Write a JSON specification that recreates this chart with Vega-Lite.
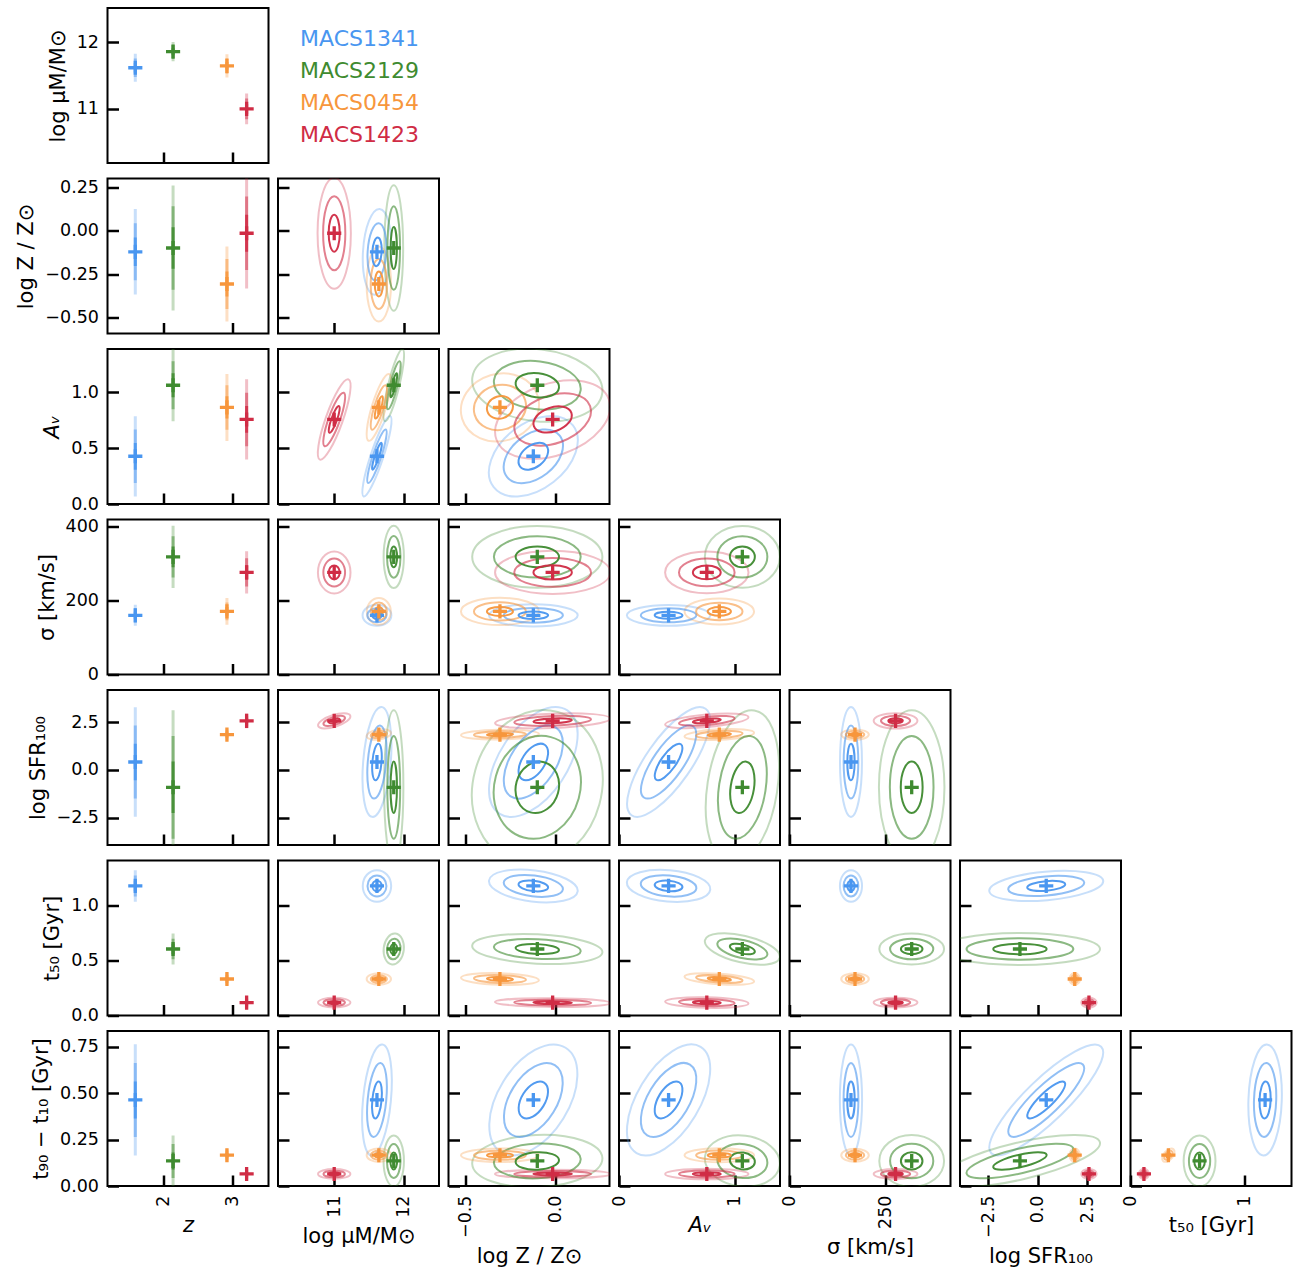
{
"$schema":"https://vega.github.io/schema/vega-lite/v6.json",
"background":"white",
"padding":{"left":14.5,"top":7,"right":2,"bottom":2},
"bounds":"flush",
"columns":7,
"spacing":{"row":15.5,"column":9.5},
"datasets":{
"grp":[
{"g":"MACS1341","z":1.594,"M":11.616,"Z":-0.122,"A":0.428,"S":160,"F":0.42,"T":1.183,"D":0.464},
{"g":"MACS2129","z":2.143,"M":11.858,"Z":-0.1,"A":1.065,"S":318,"F":-0.91,"T":0.607,"D":0.135},
{"g":"MACS0454","z":2.926,"M":11.643,"Z":-0.307,"A":0.866,"S":170.5,"F":1.86,"T":0.333,"D":0.166},
{"g":"MACS1423","z":3.212,"M":11.0,"Z":-0.015,"A":0.758,"S":276,"F":2.58,"T":0.118,"D":0.065}
],
"eb":[
{"v":"M","g":"MACS1341","lv":1,"lo":11.546,"hi":11.686},{"v":"M","g":"MACS1341","lv":2,"lo":11.476,"hi":11.756},{"v":"M","g":"MACS1341","lv":3,"lo":11.406,"hi":11.826},
{"v":"Z","g":"MACS1341","lv":1,"lo":-0.204,"hi":-0.04},{"v":"Z","g":"MACS1341","lv":2,"lo":-0.286,"hi":0.042},{"v":"Z","g":"MACS1341","lv":3,"lo":-0.368,"hi":0.124},
{"v":"A","g":"MACS1341","lv":1,"lo":0.308,"hi":0.548},{"v":"A","g":"MACS1341","lv":2,"lo":0.188,"hi":0.668},{"v":"A","g":"MACS1341","lv":3,"lo":0.068,"hi":0.788},
{"v":"S","g":"MACS1341","lv":1,"lo":150.5,"hi":169.5},{"v":"S","g":"MACS1341","lv":2,"lo":141,"hi":179},{"v":"S","g":"MACS1341","lv":3,"lo":131.5,"hi":188.5},
{"v":"F","g":"MACS1341","lv":1,"lo":-0.54,"hi":1.38},{"v":"F","g":"MACS1341","lv":2,"lo":-1.5,"hi":2.34},{"v":"F","g":"MACS1341","lv":3,"lo":-2.46,"hi":3.3},
{"v":"T","g":"MACS1341","lv":1,"lo":1.135,"hi":1.231},{"v":"T","g":"MACS1341","lv":2,"lo":1.087,"hi":1.279},{"v":"T","g":"MACS1341","lv":3,"lo":1.039,"hi":1.327},
{"v":"D","g":"MACS1341","lv":1,"lo":0.364,"hi":0.564},{"v":"D","g":"MACS1341","lv":2,"lo":0.264,"hi":0.664},{"v":"D","g":"MACS1341","lv":3,"lo":0.164,"hi":0.764},
{"v":"M","g":"MACS2129","lv":1,"lo":11.81,"hi":11.906},{"v":"M","g":"MACS2129","lv":2,"lo":11.762,"hi":11.954},{"v":"M","g":"MACS2129","lv":3,"lo":11.714,"hi":12.002},
{"v":"Z","g":"MACS2129","lv":1,"lo":-0.22,"hi":0.02},{"v":"Z","g":"MACS2129","lv":2,"lo":-0.34,"hi":0.14},{"v":"Z","g":"MACS2129","lv":3,"lo":-0.46,"hi":0.26},
{"v":"A","g":"MACS2129","lv":1,"lo":0.957,"hi":1.173},{"v":"A","g":"MACS2129","lv":2,"lo":0.849,"hi":1.281},{"v":"A","g":"MACS2129","lv":3,"lo":0.741,"hi":1.389},
{"v":"S","g":"MACS2129","lv":1,"lo":290,"hi":346},{"v":"S","g":"MACS2129","lv":2,"lo":262,"hi":374},{"v":"S","g":"MACS2129","lv":3,"lo":234,"hi":402},
{"v":"F","g":"MACS2129","lv":1,"lo":-2.26,"hi":0.44},{"v":"F","g":"MACS2129","lv":2,"lo":-3.61,"hi":1.79},{"v":"F","g":"MACS2129","lv":3,"lo":-4.96,"hi":3.14},
{"v":"T","g":"MACS2129","lv":1,"lo":0.56,"hi":0.654},{"v":"T","g":"MACS2129","lv":2,"lo":0.513,"hi":0.701},{"v":"T","g":"MACS2129","lv":3,"lo":0.466,"hi":0.748},
{"v":"D","g":"MACS2129","lv":1,"lo":0.089,"hi":0.181},{"v":"D","g":"MACS2129","lv":2,"lo":0.043,"hi":0.227},{"v":"D","g":"MACS2129","lv":3,"lo":-0.003,"hi":0.273},
{"v":"M","g":"MACS0454","lv":1,"lo":11.585,"hi":11.701},{"v":"M","g":"MACS0454","lv":2,"lo":11.527,"hi":11.759},{"v":"M","g":"MACS0454","lv":3,"lo":11.469,"hi":11.817},
{"v":"Z","g":"MACS0454","lv":1,"lo":-0.379,"hi":-0.235},{"v":"Z","g":"MACS0454","lv":2,"lo":-0.451,"hi":-0.163},{"v":"Z","g":"MACS0454","lv":3,"lo":-0.523,"hi":-0.091},
{"v":"A","g":"MACS0454","lv":1,"lo":0.766,"hi":0.966},{"v":"A","g":"MACS0454","lv":2,"lo":0.666,"hi":1.066},{"v":"A","g":"MACS0454","lv":3,"lo":0.566,"hi":1.166},
{"v":"S","g":"MACS0454","lv":1,"lo":158.5,"hi":182.5},{"v":"S","g":"MACS0454","lv":2,"lo":146.5,"hi":194.5},{"v":"S","g":"MACS0454","lv":3,"lo":134.5,"hi":206.5},
{"v":"F","g":"MACS0454","lv":1,"lo":1.77,"hi":1.95},{"v":"F","g":"MACS0454","lv":2,"lo":1.68,"hi":2.04},{"v":"F","g":"MACS0454","lv":3,"lo":1.59,"hi":2.13},
{"v":"T","g":"MACS0454","lv":1,"lo":0.315,"hi":0.351},{"v":"T","g":"MACS0454","lv":2,"lo":0.297,"hi":0.369},{"v":"T","g":"MACS0454","lv":3,"lo":0.279,"hi":0.387},
{"v":"D","g":"MACS0454","lv":1,"lo":0.154,"hi":0.178},{"v":"D","g":"MACS0454","lv":2,"lo":0.142,"hi":0.19},{"v":"D","g":"MACS0454","lv":3,"lo":0.13,"hi":0.202},
{"v":"M","g":"MACS1423","lv":1,"lo":10.923,"hi":11.077},{"v":"M","g":"MACS1423","lv":2,"lo":10.846,"hi":11.154},{"v":"M","g":"MACS1423","lv":3,"lo":10.769,"hi":11.231},
{"v":"Z","g":"MACS1423","lv":1,"lo":-0.121,"hi":0.091},{"v":"Z","g":"MACS1423","lv":2,"lo":-0.227,"hi":0.197},{"v":"Z","g":"MACS1423","lv":3,"lo":-0.333,"hi":0.303},
{"v":"A","g":"MACS1423","lv":1,"lo":0.638,"hi":0.878},{"v":"A","g":"MACS1423","lv":2,"lo":0.518,"hi":0.998},{"v":"A","g":"MACS1423","lv":3,"lo":0.398,"hi":1.118},
{"v":"S","g":"MACS1423","lv":1,"lo":257,"hi":295},{"v":"S","g":"MACS1423","lv":2,"lo":238,"hi":314},{"v":"S","g":"MACS1423","lv":3,"lo":219,"hi":333},
{"v":"F","g":"MACS1423","lv":1,"lo":2.45,"hi":2.71},{"v":"F","g":"MACS1423","lv":2,"lo":2.32,"hi":2.84},{"v":"F","g":"MACS1423","lv":3,"lo":2.19,"hi":2.97},
{"v":"T","g":"MACS1423","lv":1,"lo":0.103,"hi":0.133},{"v":"T","g":"MACS1423","lv":2,"lo":0.088,"hi":0.148},{"v":"T","g":"MACS1423","lv":3,"lo":0.073,"hi":0.163},
{"v":"D","g":"MACS1423","lv":1,"lo":0.056,"hi":0.074},{"v":"D","g":"MACS1423","lv":2,"lo":0.047,"hi":0.083},{"v":"D","g":"MACS1423","lv":3,"lo":0.038,"hi":0.092}
],
"ell":[
{"p":"Z|M","g":"MACS1341","a":14.33,"k":"0.325","t":93.5},{"p":"Z|M","g":"MACS2129","a":20.9,"k":"0.15","t":90},{"p":"Z|M","g":"MACS0454","a":12.5,"k":"0.325","t":90},{"p":"Z|M","g":"MACS1423","a":18.5,"k":"0.3","t":90},
{"p":"A|M","g":"MACS1341","a":14.1,"k":"0.15","t":108.3},{"p":"A|M","g":"MACS2129","a":12.34,"k":"0.15","t":103.7},{"p":"A|M","g":"MACS0454","a":11.63,"k":"0.2","t":107},{"p":"A|M","g":"MACS1423","a":14.19,"k":"0.2","t":109.6},
{"p":"A|Z","g":"MACS1341","a":16.76,"k":"0.65","t":142},{"p":"A|Z","g":"MACS2129","a":21.81,"k":"0.55","t":6.7},{"p":"A|Z","g":"MACS0454","a":13.16,"k":"0.85","t":163.5},{"p":"A|Z","g":"MACS1423","a":19.9,"k":"0.6","t":160.4},
{"p":"S|M","g":"MACS1341","a":4.8,"k":"0.725","t":0},{"p":"S|M","g":"MACS2129","a":10.4,"k":"0.325","t":90},{"p":"S|M","g":"MACS0454","a":4.44,"k":"0.9","t":90},{"p":"S|M","g":"MACS1423","a":7.0,"k":"0.775","t":90},
{"p":"S|Z","g":"MACS1341","a":14.8,"k":"0.25","t":0},{"p":"S|Z","g":"MACS2129","a":21.7,"k":"0.475","t":0},{"p":"S|Z","g":"MACS0454","a":13.0,"k":"0.35","t":0},{"p":"S|Z","g":"MACS1423","a":19.2,"k":"0.375","t":0},
{"p":"S|A","g":"MACS1341","a":13.9,"k":"0.25","t":0},{"p":"S|A","g":"MACS2129","a":12.5,"k":"0.825","t":0},{"p":"S|A","g":"MACS0454","a":11.6,"k":"0.375","t":0},{"p":"S|A","g":"MACS1423","a":13.9,"k":"0.5","t":0},
{"p":"F|M","g":"MACS1341","a":18.36,"k":"0.25","t":94.8},{"p":"F|M","g":"MACS2129","a":25.7,"k":"0.125","t":90},{"p":"F|M","g":"MACS0454","a":4.1,"k":"0.4","t":171.5},{"p":"F|M","g":"MACS1423","a":5.62,"k":"0.35","t":162.5},
{"p":"F|Z","g":"MACS1341","a":20.6,"k":"0.55","t":123.4},{"p":"F|Z","g":"MACS2129","a":26.0,"k":"0.825","t":105.2},{"p":"F|Z","g":"MACS0454","a":13.0,"k":"0.125","t":179},{"p":"F|Z","g":"MACS1423","a":19.2,"k":"0.125","t":177.7},
{"p":"F|A","g":"MACS1341","a":21.62,"k":"0.35","t":124.8},{"p":"F|A","g":"MACS2129","a":25.94,"k":"0.45","t":98.8},{"p":"F|A","g":"MACS0454","a":11.62,"k":"0.15","t":177},{"p":"F|A","g":"MACS1423","a":13.96,"k":"0.15","t":174.8},
{"p":"F|S","g":"MACS1341","a":18.3,"k":"0.2","t":90},{"p":"F|S","g":"MACS2129","a":25.7,"k":"0.425","t":90},{"p":"F|S","g":"MACS0454","a":4.6,"k":"0.375","t":0},{"p":"F|S","g":"MACS1423","a":7.3,"k":"0.35","t":0},
{"p":"T|M","g":"MACS1341","a":5.26,"k":"0.9","t":90},{"p":"T|M","g":"MACS2129","a":5.17,"k":"0.65","t":96.4},{"p":"T|M","g":"MACS0454","a":4.06,"k":"0.475","t":0},{"p":"T|M","g":"MACS1423","a":5.39,"k":"0.3","t":0},
{"p":"T|Z","g":"MACS1341","a":14.89,"k":"0.35","t":6.9},{"p":"T|Z","g":"MACS2129","a":21.73,"k":"0.225","t":2.9},{"p":"T|Z","g":"MACS0454","a":13.0,"k":"0.15","t":1.8},{"p":"T|Z","g":"MACS1423","a":19.2,"k":"0.075","t":0.5},
{"p":"T|A","g":"MACS1341","a":13.95,"k":"0.375","t":5},{"p":"T|A","g":"MACS2129","a":12.8,"k":"0.35","t":13.2},{"p":"T|A","g":"MACS0454","a":11.63,"k":"0.15","t":4},{"p":"T|A","g":"MACS1423","a":13.9,"k":"0.125","t":1.4},
{"p":"T|S","g":"MACS1341","a":5.26,"k":"0.7","t":90},{"p":"T|S","g":"MACS2129","a":10.8,"k":"0.475","t":0},{"p":"T|S","g":"MACS0454","a":4.6,"k":"0.425","t":0},{"p":"T|S","g":"MACS1423","a":7.3,"k":"0.225","t":0},
{"p":"T|F","g":"MACS1341","a":19.07,"k":"0.25","t":174.9},{"p":"T|F","g":"MACS2129","a":26.7,"k":"0.2","t":0},{"p":"T|F","g":"MACS0454","a":1.97,"k":"0.9","t":90},{"p":"T|F","g":"MACS1423","a":2.57,"k":"0.65","t":0},
{"p":"D|M","g":"MACS1341","a":18.58,"k":"0.25","t":95.5},{"p":"D|M","g":"MACS2129","a":8.5,"k":"0.4","t":90},{"p":"D|M","g":"MACS0454","a":4.06,"k":"0.55","t":0},{"p":"D|M","g":"MACS1423","a":5.39,"k":"0.3","t":0},
{"p":"D|Z","g":"MACS1341","a":20.45,"k":"0.575","t":121.7},{"p":"D|Z","g":"MACS2129","a":21.72,"k":"0.4","t":177.4},{"p":"D|Z","g":"MACS0454","a":13.0,"k":"0.175","t":0},{"p":"D|Z","g":"MACS1423","a":19.2,"k":"0.075","t":0},
{"p":"D|A","g":"MACS1341","a":20.68,"k":"0.5","t":121.1},{"p":"D|A","g":"MACS2129","a":12.55,"k":"0.675","t":7.1},{"p":"D|A","g":"MACS0454","a":11.6,"k":"0.2","t":0},{"p":"D|A","g":"MACS1423","a":13.9,"k":"0.125","t":0},
{"p":"D|S","g":"MACS1341","a":18.5,"k":"0.2","t":90},{"p":"D|S","g":"MACS2129","a":10.8,"k":"0.8","t":0},{"p":"D|S","g":"MACS0454","a":4.6,"k":"0.475","t":0},{"p":"D|S","g":"MACS1423","a":7.3,"k":"0.225","t":0},
{"p":"D|F","g":"MACS1341","a":25.5,"k":"0.275","t":135.9},{"p":"D|F","g":"MACS2129","a":27.39,"k":"0.225","t":166.8},{"p":"D|F","g":"MACS0454","a":2.2,"k":"0.8","t":90},{"p":"D|F","g":"MACS1423","a":2.57,"k":"0.65","t":0},
{"p":"D|T","g":"MACS1341","a":18.51,"k":"0.3","t":91.85},{"p":"D|T","g":"MACS2129","a":8.5,"k":"0.625","t":90},{"p":"D|T","g":"MACS0454","a":2.61,"k":"0.575","t":131},{"p":"D|T","g":"MACS1423","a":1.7,"k":"1.0","t":0}
]
},
"concat":[
{"width":161,"height":155,"data":{"name":"eb"},"transform":[{"filter":{"field":"v","equal":"M"}},{"lookup":"g","from":{"data":{"name":"grp"},"key":"g","fields":["z","M"]}}],
 "encoding":{"x":{"field":"z","type":"quantitative","scale":{"domain":[1.19,3.53],"nice":false,"zero":false},"axis":{"values":[2,3],"labels":false,"title":null}},"color":{"field":"g","type":"nominal","scale":{"domain":["MACS1341","MACS2129","MACS0454","MACS1423"],"range":["#4996f0","#3f8b30","#f7963c","#d02c45"]},"legend":null}},
 "layer":[
 {"transform":[{"filter":{"field":"lv","equal":3}}],"mark":{"type":"rule","strokeWidth":3,"opacity":0.3,"clip":true},"encoding":{"y":{"field":"lo","type":"quantitative","scale":{"domain":[10.19,12.51],"nice":false,"zero":false},"axis":{"values":[11,12],"format":"d","title":"log μM/M⊙"}},"y2":{"field":"hi"}}},
 {"transform":[{"filter":{"field":"lv","equal":2}}],"mark":{"type":"rule","strokeWidth":3,"opacity":0.5,"clip":true},"encoding":{"y":{"field":"lo","type":"quantitative","scale":{"domain":[10.19,12.51],"nice":false,"zero":false},"axis":{"values":[11,12],"format":"d","title":"log μM/M⊙"}},"y2":{"field":"hi"}}},
 {"transform":[{"filter":{"field":"lv","equal":1}}],"mark":{"type":"rule","strokeWidth":3,"opacity":0.85,"clip":true},"encoding":{"y":{"field":"lo","type":"quantitative","scale":{"domain":[10.19,12.51],"nice":false,"zero":false},"axis":{"values":[11,12],"format":"d","title":"log μM/M⊙"}},"y2":{"field":"hi"}}},
 {"transform":[{"filter":{"field":"lv","equal":1}}],"mark":{"type":"point","shape":"M-1,0L1,0M0,-1L0,1","size":200,"strokeWidth":3.3,"filled":false,"opacity":1},"encoding":{"y":{"field":"M","type":"quantitative","scale":{"domain":[10.19,12.51],"nice":false,"zero":false},"axis":{"values":[11,12],"format":"d","title":"log μM/M⊙"}}}}
 ]},
{"width":161,"height":155,"view":{"stroke":null},"data":{"name":"grp"},"mark":{"type":"text","align":"left","baseline":"middle","fontSize":22,"font":"DejaVu Sans"},
 "encoding":{"x":{"value":22},"y":{"field":"g","type":"nominal","scale":{"type":"point","padding":0,"domain":["MACS1341","MACS2129","MACS0454","MACS1423"],"range":[31,127]},"axis":null},"text":{"field":"g"},"color":{"field":"g","type":"nominal","scale":{"domain":["MACS1341","MACS2129","MACS0454","MACS1423"],"range":["#4996f0","#3f8b30","#f7963c","#d02c45"]},"legend":null}}},
{"width":161,"height":155,"view":{"stroke":null},"data":{"values":[]},"mark":"point"},
{"width":161,"height":155,"view":{"stroke":null},"data":{"values":[]},"mark":"point"},
{"width":161,"height":155,"view":{"stroke":null},"data":{"values":[]},"mark":"point"},
{"width":161,"height":155,"view":{"stroke":null},"data":{"values":[]},"mark":"point"},
{"width":161,"height":155,"view":{"stroke":null},"data":{"values":[]},"mark":"point"},

{"width":161,"height":155,"data":{"name":"eb"},"transform":[{"filter":{"field":"v","equal":"Z"}},{"lookup":"g","from":{"data":{"name":"grp"},"key":"g","fields":["z","Z"]}}],
 "encoding":{"x":{"field":"z","type":"quantitative","scale":{"domain":[1.19,3.53],"nice":false,"zero":false},"axis":{"values":[2,3],"labels":false,"title":null}},"color":{"field":"g","type":"nominal","scale":{"domain":["MACS1341","MACS2129","MACS0454","MACS1423"],"range":["#4996f0","#3f8b30","#f7963c","#d02c45"]},"legend":null}},
 "layer":[
 {"transform":[{"filter":{"field":"lv","equal":3}}],"mark":{"type":"rule","strokeWidth":3,"opacity":0.3,"clip":true},"encoding":{"y":{"field":"lo","type":"quantitative","scale":{"domain":[-0.592,0.3],"nice":false,"zero":false},"axis":{"values":[-0.5,-0.25,0,0.25],"format":".2f","title":"log Z / Z⊙"}},"y2":{"field":"hi"}}},
 {"transform":[{"filter":{"field":"lv","equal":2}}],"mark":{"type":"rule","strokeWidth":3,"opacity":0.5,"clip":true},"encoding":{"y":{"field":"lo","type":"quantitative","scale":{"domain":[-0.592,0.3],"nice":false,"zero":false},"axis":{"values":[-0.5,-0.25,0,0.25],"format":".2f","title":"log Z / Z⊙"}},"y2":{"field":"hi"}}},
 {"transform":[{"filter":{"field":"lv","equal":1}}],"mark":{"type":"rule","strokeWidth":3,"opacity":0.85,"clip":true},"encoding":{"y":{"field":"lo","type":"quantitative","scale":{"domain":[-0.592,0.3],"nice":false,"zero":false},"axis":{"values":[-0.5,-0.25,0,0.25],"format":".2f","title":"log Z / Z⊙"}},"y2":{"field":"hi"}}},
 {"transform":[{"filter":{"field":"lv","equal":1}}],"mark":{"type":"point","shape":"M-1,0L1,0M0,-1L0,1","size":200,"strokeWidth":3.3,"filled":false,"opacity":1},"encoding":{"y":{"field":"Z","type":"quantitative","scale":{"domain":[-0.592,0.3],"nice":false,"zero":false},"axis":{"values":[-0.5,-0.25,0,0.25],"format":".2f","title":"log Z / Z⊙"}}}}
 ]},
{"width":161,"height":155,"data":{"name":"ell"},"transform":[{"filter":{"field":"p","equal":"Z|M"}},{"lookup":"g","from":{"data":{"name":"grp"},"key":"g","fields":["M","Z"]}}],
 "encoding":{"x":{"field":"M","type":"quantitative","scale":{"domain":[10.19,12.51],"nice":false,"zero":false},"axis":{"values":[11,12],"labels":false,"title":null}},"y":{"field":"Z","type":"quantitative","scale":{"domain":[-0.592,0.3],"nice":false,"zero":false},"axis":{"values":[-0.5,-0.25,0,0.25],"labels":false,"title":null}},"color":{"field":"g","type":"nominal","scale":{"domain":["MACS1341","MACS2129","MACS0454","MACS1423"],"range":["#4996f0","#3f8b30","#f7963c","#d02c45"]},"legend":null},"shape":{"field":"k","type":"nominal","scale":{"domain":["0.075","0.125","0.15","0.175","0.2","0.225","0.25","0.275","0.3","0.325","0.35","0.375","0.4","0.425","0.45","0.475","0.5","0.55","0.575","0.6","0.625","0.65","0.675","0.7","0.725","0.775","0.8","0.825","0.85","0.9","1.0"]},"legend":null},"angle":{"field":"t","type":"quantitative","scale":null}},
 "layer":[
 {"mark":{"type":"point","filled":false,"strokeWidth":2,"opacity":0.3,"clip":true},"encoding":{"size":{"field":"a","type":"quantitative","scale":{"type":"pow","exponent":2,"domain":[0,30],"range":[0,32400]},"legend":null}}},
 {"mark":{"type":"point","filled":false,"strokeWidth":2,"opacity":0.6,"clip":true},"encoding":{"size":{"field":"a","type":"quantitative","scale":{"type":"pow","exponent":2,"domain":[0,30],"range":[0,14400]},"legend":null}}},
 {"mark":{"type":"point","filled":false,"strokeWidth":2,"opacity":0.95,"clip":true},"encoding":{"size":{"field":"a","type":"quantitative","scale":{"type":"pow","exponent":2,"domain":[0,30],"range":[0,3600]},"legend":null}}},
 {"mark":{"type":"point","filled":false,"strokeWidth":3.3,"opacity":1,"size":200},"encoding":{"shape":{"value":"M-1,0L1,0M0,-1L0,1"},"angle":{"value":0}}}
 ],"resolve":{"scale":{"size":"independent"}}},
{"width":161,"height":155,"view":{"stroke":null},"data":{"values":[]},"mark":"point"},
{"width":161,"height":155,"view":{"stroke":null},"data":{"values":[]},"mark":"point"},
{"width":161,"height":155,"view":{"stroke":null},"data":{"values":[]},"mark":"point"},
{"width":161,"height":155,"view":{"stroke":null},"data":{"values":[]},"mark":"point"},
{"width":161,"height":155,"view":{"stroke":null},"data":{"values":[]},"mark":"point"},

{"width":161,"height":155,"data":{"name":"eb"},"transform":[{"filter":{"field":"v","equal":"A"}},{"lookup":"g","from":{"data":{"name":"grp"},"key":"g","fields":["z","A"]}}],
 "encoding":{"x":{"field":"z","type":"quantitative","scale":{"domain":[1.19,3.53],"nice":false,"zero":false},"axis":{"values":[2,3],"labels":false,"title":null}},"color":{"field":"g","type":"nominal","scale":{"domain":["MACS1341","MACS2129","MACS0454","MACS1423"],"range":["#4996f0","#3f8b30","#f7963c","#d02c45"]},"legend":null}},
 "layer":[
 {"transform":[{"filter":{"field":"lv","equal":3}}],"mark":{"type":"rule","strokeWidth":3,"opacity":0.3,"clip":true},"encoding":{"y":{"field":"lo","type":"quantitative","scale":{"domain":[0,1.39],"nice":false,"zero":false},"axis":{"values":[0,0.5,1],"format":".1f","title":"Aᵥ","titleFontStyle":"italic"}},"y2":{"field":"hi"}}},
 {"transform":[{"filter":{"field":"lv","equal":2}}],"mark":{"type":"rule","strokeWidth":3,"opacity":0.5,"clip":true},"encoding":{"y":{"field":"lo","type":"quantitative","scale":{"domain":[0,1.39],"nice":false,"zero":false},"axis":{"values":[0,0.5,1],"format":".1f","title":"Aᵥ","titleFontStyle":"italic"}},"y2":{"field":"hi"}}},
 {"transform":[{"filter":{"field":"lv","equal":1}}],"mark":{"type":"rule","strokeWidth":3,"opacity":0.85,"clip":true},"encoding":{"y":{"field":"lo","type":"quantitative","scale":{"domain":[0,1.39],"nice":false,"zero":false},"axis":{"values":[0,0.5,1],"format":".1f","title":"Aᵥ","titleFontStyle":"italic"}},"y2":{"field":"hi"}}},
 {"transform":[{"filter":{"field":"lv","equal":1}}],"mark":{"type":"point","shape":"M-1,0L1,0M0,-1L0,1","size":200,"strokeWidth":3.3,"filled":false,"opacity":1},"encoding":{"y":{"field":"A","type":"quantitative","scale":{"domain":[0,1.39],"nice":false,"zero":false},"axis":{"values":[0,0.5,1],"format":".1f","title":"Aᵥ","titleFontStyle":"italic"}}}}
 ]},
{"width":161,"height":155,"data":{"name":"ell"},"transform":[{"filter":{"field":"p","equal":"A|M"}},{"lookup":"g","from":{"data":{"name":"grp"},"key":"g","fields":["M","A"]}}],
 "encoding":{"x":{"field":"M","type":"quantitative","scale":{"domain":[10.19,12.51],"nice":false,"zero":false},"axis":{"values":[11,12],"labels":false,"title":null}},"y":{"field":"A","type":"quantitative","scale":{"domain":[0,1.39],"nice":false,"zero":false},"axis":{"values":[0,0.5,1],"labels":false,"title":null}},"color":{"field":"g","type":"nominal","scale":{"domain":["MACS1341","MACS2129","MACS0454","MACS1423"],"range":["#4996f0","#3f8b30","#f7963c","#d02c45"]},"legend":null},"shape":{"field":"k","type":"nominal","scale":{"domain":["0.075","0.125","0.15","0.175","0.2","0.225","0.25","0.275","0.3","0.325","0.35","0.375","0.4","0.425","0.45","0.475","0.5","0.55","0.575","0.6","0.625","0.65","0.675","0.7","0.725","0.775","0.8","0.825","0.85","0.9","1.0"]},"legend":null},"angle":{"field":"t","type":"quantitative","scale":null}},
 "layer":[
 {"mark":{"type":"point","filled":false,"strokeWidth":2,"opacity":0.3,"clip":true},"encoding":{"size":{"field":"a","type":"quantitative","scale":{"type":"pow","exponent":2,"domain":[0,30],"range":[0,32400]},"legend":null}}},
 {"mark":{"type":"point","filled":false,"strokeWidth":2,"opacity":0.6,"clip":true},"encoding":{"size":{"field":"a","type":"quantitative","scale":{"type":"pow","exponent":2,"domain":[0,30],"range":[0,14400]},"legend":null}}},
 {"mark":{"type":"point","filled":false,"strokeWidth":2,"opacity":0.95,"clip":true},"encoding":{"size":{"field":"a","type":"quantitative","scale":{"type":"pow","exponent":2,"domain":[0,30],"range":[0,3600]},"legend":null}}},
 {"mark":{"type":"point","filled":false,"strokeWidth":3.3,"opacity":1,"size":200},"encoding":{"shape":{"value":"M-1,0L1,0M0,-1L0,1"},"angle":{"value":0}}}
 ],"resolve":{"scale":{"size":"independent"}}},
{"width":161,"height":155,"data":{"name":"ell"},"transform":[{"filter":{"field":"p","equal":"A|Z"}},{"lookup":"g","from":{"data":{"name":"grp"},"key":"g","fields":["Z","A"]}}],
 "encoding":{"x":{"field":"Z","type":"quantitative","scale":{"domain":[-0.592,0.3],"nice":false,"zero":false},"axis":{"values":[-0.5,0],"labels":false,"title":null}},"y":{"field":"A","type":"quantitative","scale":{"domain":[0,1.39],"nice":false,"zero":false},"axis":{"values":[0,0.5,1],"labels":false,"title":null}},"color":{"field":"g","type":"nominal","scale":{"domain":["MACS1341","MACS2129","MACS0454","MACS1423"],"range":["#4996f0","#3f8b30","#f7963c","#d02c45"]},"legend":null},"shape":{"field":"k","type":"nominal","scale":{"domain":["0.075","0.125","0.15","0.175","0.2","0.225","0.25","0.275","0.3","0.325","0.35","0.375","0.4","0.425","0.45","0.475","0.5","0.55","0.575","0.6","0.625","0.65","0.675","0.7","0.725","0.775","0.8","0.825","0.85","0.9","1.0"]},"legend":null},"angle":{"field":"t","type":"quantitative","scale":null}},
 "layer":[
 {"mark":{"type":"point","filled":false,"strokeWidth":2,"opacity":0.3,"clip":true},"encoding":{"size":{"field":"a","type":"quantitative","scale":{"type":"pow","exponent":2,"domain":[0,30],"range":[0,32400]},"legend":null}}},
 {"mark":{"type":"point","filled":false,"strokeWidth":2,"opacity":0.6,"clip":true},"encoding":{"size":{"field":"a","type":"quantitative","scale":{"type":"pow","exponent":2,"domain":[0,30],"range":[0,14400]},"legend":null}}},
 {"mark":{"type":"point","filled":false,"strokeWidth":2,"opacity":0.95,"clip":true},"encoding":{"size":{"field":"a","type":"quantitative","scale":{"type":"pow","exponent":2,"domain":[0,30],"range":[0,3600]},"legend":null}}},
 {"mark":{"type":"point","filled":false,"strokeWidth":3.3,"opacity":1,"size":200},"encoding":{"shape":{"value":"M-1,0L1,0M0,-1L0,1"},"angle":{"value":0}}}
 ],"resolve":{"scale":{"size":"independent"}}},
{"width":161,"height":155,"view":{"stroke":null},"data":{"values":[]},"mark":"point"},
{"width":161,"height":155,"view":{"stroke":null},"data":{"values":[]},"mark":"point"},
{"width":161,"height":155,"view":{"stroke":null},"data":{"values":[]},"mark":"point"},
{"width":161,"height":155,"view":{"stroke":null},"data":{"values":[]},"mark":"point"},

{"width":161,"height":155,"data":{"name":"eb"},"transform":[{"filter":{"field":"v","equal":"S"}},{"lookup":"g","from":{"data":{"name":"grp"},"key":"g","fields":["z","S"]}}],
 "encoding":{"x":{"field":"z","type":"quantitative","scale":{"domain":[1.19,3.53],"nice":false,"zero":false},"axis":{"values":[2,3],"labels":false,"title":null}},"color":{"field":"g","type":"nominal","scale":{"domain":["MACS1341","MACS2129","MACS0454","MACS1423"],"range":["#4996f0","#3f8b30","#f7963c","#d02c45"]},"legend":null}},
 "layer":[
 {"transform":[{"filter":{"field":"lv","equal":3}}],"mark":{"type":"rule","strokeWidth":3,"opacity":0.3,"clip":true},"encoding":{"y":{"field":"lo","type":"quantitative","scale":{"domain":[0,419],"nice":false,"zero":false},"axis":{"values":[0,200,400],"format":"d","title":"σ [km/s]"}},"y2":{"field":"hi"}}},
 {"transform":[{"filter":{"field":"lv","equal":2}}],"mark":{"type":"rule","strokeWidth":3,"opacity":0.5,"clip":true},"encoding":{"y":{"field":"lo","type":"quantitative","scale":{"domain":[0,419],"nice":false,"zero":false},"axis":{"values":[0,200,400],"format":"d","title":"σ [km/s]"}},"y2":{"field":"hi"}}},
 {"transform":[{"filter":{"field":"lv","equal":1}}],"mark":{"type":"rule","strokeWidth":3,"opacity":0.85,"clip":true},"encoding":{"y":{"field":"lo","type":"quantitative","scale":{"domain":[0,419],"nice":false,"zero":false},"axis":{"values":[0,200,400],"format":"d","title":"σ [km/s]"}},"y2":{"field":"hi"}}},
 {"transform":[{"filter":{"field":"lv","equal":1}}],"mark":{"type":"point","shape":"M-1,0L1,0M0,-1L0,1","size":200,"strokeWidth":3.3,"filled":false,"opacity":1},"encoding":{"y":{"field":"S","type":"quantitative","scale":{"domain":[0,419],"nice":false,"zero":false},"axis":{"values":[0,200,400],"format":"d","title":"σ [km/s]"}}}}
 ]},
{"width":161,"height":155,"data":{"name":"ell"},"transform":[{"filter":{"field":"p","equal":"S|M"}},{"lookup":"g","from":{"data":{"name":"grp"},"key":"g","fields":["M","S"]}}],
 "encoding":{"x":{"field":"M","type":"quantitative","scale":{"domain":[10.19,12.51],"nice":false,"zero":false},"axis":{"values":[11,12],"labels":false,"title":null}},"y":{"field":"S","type":"quantitative","scale":{"domain":[0,419],"nice":false,"zero":false},"axis":{"values":[0,200,400],"labels":false,"title":null}},"color":{"field":"g","type":"nominal","scale":{"domain":["MACS1341","MACS2129","MACS0454","MACS1423"],"range":["#4996f0","#3f8b30","#f7963c","#d02c45"]},"legend":null},"shape":{"field":"k","type":"nominal","scale":{"domain":["0.075","0.125","0.15","0.175","0.2","0.225","0.25","0.275","0.3","0.325","0.35","0.375","0.4","0.425","0.45","0.475","0.5","0.55","0.575","0.6","0.625","0.65","0.675","0.7","0.725","0.775","0.8","0.825","0.85","0.9","1.0"]},"legend":null},"angle":{"field":"t","type":"quantitative","scale":null}},
 "layer":[
 {"mark":{"type":"point","filled":false,"strokeWidth":2,"opacity":0.3,"clip":true},"encoding":{"size":{"field":"a","type":"quantitative","scale":{"type":"pow","exponent":2,"domain":[0,30],"range":[0,32400]},"legend":null}}},
 {"mark":{"type":"point","filled":false,"strokeWidth":2,"opacity":0.6,"clip":true},"encoding":{"size":{"field":"a","type":"quantitative","scale":{"type":"pow","exponent":2,"domain":[0,30],"range":[0,14400]},"legend":null}}},
 {"mark":{"type":"point","filled":false,"strokeWidth":2,"opacity":0.95,"clip":true},"encoding":{"size":{"field":"a","type":"quantitative","scale":{"type":"pow","exponent":2,"domain":[0,30],"range":[0,3600]},"legend":null}}},
 {"mark":{"type":"point","filled":false,"strokeWidth":3.3,"opacity":1,"size":200},"encoding":{"shape":{"value":"M-1,0L1,0M0,-1L0,1"},"angle":{"value":0}}}
 ],"resolve":{"scale":{"size":"independent"}}},
{"width":161,"height":155,"data":{"name":"ell"},"transform":[{"filter":{"field":"p","equal":"S|Z"}},{"lookup":"g","from":{"data":{"name":"grp"},"key":"g","fields":["Z","S"]}}],
 "encoding":{"x":{"field":"Z","type":"quantitative","scale":{"domain":[-0.592,0.3],"nice":false,"zero":false},"axis":{"values":[-0.5,0],"labels":false,"title":null}},"y":{"field":"S","type":"quantitative","scale":{"domain":[0,419],"nice":false,"zero":false},"axis":{"values":[0,200,400],"labels":false,"title":null}},"color":{"field":"g","type":"nominal","scale":{"domain":["MACS1341","MACS2129","MACS0454","MACS1423"],"range":["#4996f0","#3f8b30","#f7963c","#d02c45"]},"legend":null},"shape":{"field":"k","type":"nominal","scale":{"domain":["0.075","0.125","0.15","0.175","0.2","0.225","0.25","0.275","0.3","0.325","0.35","0.375","0.4","0.425","0.45","0.475","0.5","0.55","0.575","0.6","0.625","0.65","0.675","0.7","0.725","0.775","0.8","0.825","0.85","0.9","1.0"]},"legend":null},"angle":{"field":"t","type":"quantitative","scale":null}},
 "layer":[
 {"mark":{"type":"point","filled":false,"strokeWidth":2,"opacity":0.3,"clip":true},"encoding":{"size":{"field":"a","type":"quantitative","scale":{"type":"pow","exponent":2,"domain":[0,30],"range":[0,32400]},"legend":null}}},
 {"mark":{"type":"point","filled":false,"strokeWidth":2,"opacity":0.6,"clip":true},"encoding":{"size":{"field":"a","type":"quantitative","scale":{"type":"pow","exponent":2,"domain":[0,30],"range":[0,14400]},"legend":null}}},
 {"mark":{"type":"point","filled":false,"strokeWidth":2,"opacity":0.95,"clip":true},"encoding":{"size":{"field":"a","type":"quantitative","scale":{"type":"pow","exponent":2,"domain":[0,30],"range":[0,3600]},"legend":null}}},
 {"mark":{"type":"point","filled":false,"strokeWidth":3.3,"opacity":1,"size":200},"encoding":{"shape":{"value":"M-1,0L1,0M0,-1L0,1"},"angle":{"value":0}}}
 ],"resolve":{"scale":{"size":"independent"}}},
{"width":161,"height":155,"data":{"name":"ell"},"transform":[{"filter":{"field":"p","equal":"S|A"}},{"lookup":"g","from":{"data":{"name":"grp"},"key":"g","fields":["A","S"]}}],
 "encoding":{"x":{"field":"A","type":"quantitative","scale":{"domain":[0,1.39],"nice":false,"zero":false},"axis":{"values":[0,1],"labels":false,"title":null}},"y":{"field":"S","type":"quantitative","scale":{"domain":[0,419],"nice":false,"zero":false},"axis":{"values":[0,200,400],"labels":false,"title":null}},"color":{"field":"g","type":"nominal","scale":{"domain":["MACS1341","MACS2129","MACS0454","MACS1423"],"range":["#4996f0","#3f8b30","#f7963c","#d02c45"]},"legend":null},"shape":{"field":"k","type":"nominal","scale":{"domain":["0.075","0.125","0.15","0.175","0.2","0.225","0.25","0.275","0.3","0.325","0.35","0.375","0.4","0.425","0.45","0.475","0.5","0.55","0.575","0.6","0.625","0.65","0.675","0.7","0.725","0.775","0.8","0.825","0.85","0.9","1.0"]},"legend":null},"angle":{"field":"t","type":"quantitative","scale":null}},
 "layer":[
 {"mark":{"type":"point","filled":false,"strokeWidth":2,"opacity":0.3,"clip":true},"encoding":{"size":{"field":"a","type":"quantitative","scale":{"type":"pow","exponent":2,"domain":[0,30],"range":[0,32400]},"legend":null}}},
 {"mark":{"type":"point","filled":false,"strokeWidth":2,"opacity":0.6,"clip":true},"encoding":{"size":{"field":"a","type":"quantitative","scale":{"type":"pow","exponent":2,"domain":[0,30],"range":[0,14400]},"legend":null}}},
 {"mark":{"type":"point","filled":false,"strokeWidth":2,"opacity":0.95,"clip":true},"encoding":{"size":{"field":"a","type":"quantitative","scale":{"type":"pow","exponent":2,"domain":[0,30],"range":[0,3600]},"legend":null}}},
 {"mark":{"type":"point","filled":false,"strokeWidth":3.3,"opacity":1,"size":200},"encoding":{"shape":{"value":"M-1,0L1,0M0,-1L0,1"},"angle":{"value":0}}}
 ],"resolve":{"scale":{"size":"independent"}}},
{"width":161,"height":155,"view":{"stroke":null},"data":{"values":[]},"mark":"point"},
{"width":161,"height":155,"view":{"stroke":null},"data":{"values":[]},"mark":"point"},
{"width":161,"height":155,"view":{"stroke":null},"data":{"values":[]},"mark":"point"},

{"width":161,"height":155,"data":{"name":"eb"},"transform":[{"filter":{"field":"v","equal":"F"}},{"lookup":"g","from":{"data":{"name":"grp"},"key":"g","fields":["z","F"]}}],
 "encoding":{"x":{"field":"z","type":"quantitative","scale":{"domain":[1.19,3.53],"nice":false,"zero":false},"axis":{"values":[2,3],"labels":false,"title":null}},"color":{"field":"g","type":"nominal","scale":{"domain":["MACS1341","MACS2129","MACS0454","MACS1423"],"range":["#4996f0","#3f8b30","#f7963c","#d02c45"]},"legend":null}},
 "layer":[
 {"transform":[{"filter":{"field":"lv","equal":3}}],"mark":{"type":"rule","strokeWidth":3,"opacity":0.3,"clip":true},"encoding":{"y":{"field":"lo","type":"quantitative","scale":{"domain":[-3.94,4.2],"nice":false,"zero":false},"axis":{"values":[-2.5,0,2.5],"format":".1f","title":"log SFR₁₀₀"}},"y2":{"field":"hi"}}},
 {"transform":[{"filter":{"field":"lv","equal":2}}],"mark":{"type":"rule","strokeWidth":3,"opacity":0.5,"clip":true},"encoding":{"y":{"field":"lo","type":"quantitative","scale":{"domain":[-3.94,4.2],"nice":false,"zero":false},"axis":{"values":[-2.5,0,2.5],"format":".1f","title":"log SFR₁₀₀"}},"y2":{"field":"hi"}}},
 {"transform":[{"filter":{"field":"lv","equal":1}}],"mark":{"type":"rule","strokeWidth":3,"opacity":0.85,"clip":true},"encoding":{"y":{"field":"lo","type":"quantitative","scale":{"domain":[-3.94,4.2],"nice":false,"zero":false},"axis":{"values":[-2.5,0,2.5],"format":".1f","title":"log SFR₁₀₀"}},"y2":{"field":"hi"}}},
 {"transform":[{"filter":{"field":"lv","equal":1}}],"mark":{"type":"point","shape":"M-1,0L1,0M0,-1L0,1","size":200,"strokeWidth":3.3,"filled":false,"opacity":1},"encoding":{"y":{"field":"F","type":"quantitative","scale":{"domain":[-3.94,4.2],"nice":false,"zero":false},"axis":{"values":[-2.5,0,2.5],"format":".1f","title":"log SFR₁₀₀"}}}}
 ]},
{"width":161,"height":155,"data":{"name":"ell"},"transform":[{"filter":{"field":"p","equal":"F|M"}},{"lookup":"g","from":{"data":{"name":"grp"},"key":"g","fields":["M","F"]}}],
 "encoding":{"x":{"field":"M","type":"quantitative","scale":{"domain":[10.19,12.51],"nice":false,"zero":false},"axis":{"values":[11,12],"labels":false,"title":null}},"y":{"field":"F","type":"quantitative","scale":{"domain":[-3.94,4.2],"nice":false,"zero":false},"axis":{"values":[-2.5,0,2.5],"labels":false,"title":null}},"color":{"field":"g","type":"nominal","scale":{"domain":["MACS1341","MACS2129","MACS0454","MACS1423"],"range":["#4996f0","#3f8b30","#f7963c","#d02c45"]},"legend":null},"shape":{"field":"k","type":"nominal","scale":{"domain":["0.075","0.125","0.15","0.175","0.2","0.225","0.25","0.275","0.3","0.325","0.35","0.375","0.4","0.425","0.45","0.475","0.5","0.55","0.575","0.6","0.625","0.65","0.675","0.7","0.725","0.775","0.8","0.825","0.85","0.9","1.0"]},"legend":null},"angle":{"field":"t","type":"quantitative","scale":null}},
 "layer":[
 {"mark":{"type":"point","filled":false,"strokeWidth":2,"opacity":0.3,"clip":true},"encoding":{"size":{"field":"a","type":"quantitative","scale":{"type":"pow","exponent":2,"domain":[0,30],"range":[0,32400]},"legend":null}}},
 {"mark":{"type":"point","filled":false,"strokeWidth":2,"opacity":0.6,"clip":true},"encoding":{"size":{"field":"a","type":"quantitative","scale":{"type":"pow","exponent":2,"domain":[0,30],"range":[0,14400]},"legend":null}}},
 {"mark":{"type":"point","filled":false,"strokeWidth":2,"opacity":0.95,"clip":true},"encoding":{"size":{"field":"a","type":"quantitative","scale":{"type":"pow","exponent":2,"domain":[0,30],"range":[0,3600]},"legend":null}}},
 {"mark":{"type":"point","filled":false,"strokeWidth":3.3,"opacity":1,"size":200},"encoding":{"shape":{"value":"M-1,0L1,0M0,-1L0,1"},"angle":{"value":0}}}
 ],"resolve":{"scale":{"size":"independent"}}},
{"width":161,"height":155,"data":{"name":"ell"},"transform":[{"filter":{"field":"p","equal":"F|Z"}},{"lookup":"g","from":{"data":{"name":"grp"},"key":"g","fields":["Z","F"]}}],
 "encoding":{"x":{"field":"Z","type":"quantitative","scale":{"domain":[-0.592,0.3],"nice":false,"zero":false},"axis":{"values":[-0.5,0],"labels":false,"title":null}},"y":{"field":"F","type":"quantitative","scale":{"domain":[-3.94,4.2],"nice":false,"zero":false},"axis":{"values":[-2.5,0,2.5],"labels":false,"title":null}},"color":{"field":"g","type":"nominal","scale":{"domain":["MACS1341","MACS2129","MACS0454","MACS1423"],"range":["#4996f0","#3f8b30","#f7963c","#d02c45"]},"legend":null},"shape":{"field":"k","type":"nominal","scale":{"domain":["0.075","0.125","0.15","0.175","0.2","0.225","0.25","0.275","0.3","0.325","0.35","0.375","0.4","0.425","0.45","0.475","0.5","0.55","0.575","0.6","0.625","0.65","0.675","0.7","0.725","0.775","0.8","0.825","0.85","0.9","1.0"]},"legend":null},"angle":{"field":"t","type":"quantitative","scale":null}},
 "layer":[
 {"mark":{"type":"point","filled":false,"strokeWidth":2,"opacity":0.3,"clip":true},"encoding":{"size":{"field":"a","type":"quantitative","scale":{"type":"pow","exponent":2,"domain":[0,30],"range":[0,32400]},"legend":null}}},
 {"mark":{"type":"point","filled":false,"strokeWidth":2,"opacity":0.6,"clip":true},"encoding":{"size":{"field":"a","type":"quantitative","scale":{"type":"pow","exponent":2,"domain":[0,30],"range":[0,14400]},"legend":null}}},
 {"mark":{"type":"point","filled":false,"strokeWidth":2,"opacity":0.95,"clip":true},"encoding":{"size":{"field":"a","type":"quantitative","scale":{"type":"pow","exponent":2,"domain":[0,30],"range":[0,3600]},"legend":null}}},
 {"mark":{"type":"point","filled":false,"strokeWidth":3.3,"opacity":1,"size":200},"encoding":{"shape":{"value":"M-1,0L1,0M0,-1L0,1"},"angle":{"value":0}}}
 ],"resolve":{"scale":{"size":"independent"}}},
{"width":161,"height":155,"data":{"name":"ell"},"transform":[{"filter":{"field":"p","equal":"F|A"}},{"lookup":"g","from":{"data":{"name":"grp"},"key":"g","fields":["A","F"]}}],
 "encoding":{"x":{"field":"A","type":"quantitative","scale":{"domain":[0,1.39],"nice":false,"zero":false},"axis":{"values":[0,1],"labels":false,"title":null}},"y":{"field":"F","type":"quantitative","scale":{"domain":[-3.94,4.2],"nice":false,"zero":false},"axis":{"values":[-2.5,0,2.5],"labels":false,"title":null}},"color":{"field":"g","type":"nominal","scale":{"domain":["MACS1341","MACS2129","MACS0454","MACS1423"],"range":["#4996f0","#3f8b30","#f7963c","#d02c45"]},"legend":null},"shape":{"field":"k","type":"nominal","scale":{"domain":["0.075","0.125","0.15","0.175","0.2","0.225","0.25","0.275","0.3","0.325","0.35","0.375","0.4","0.425","0.45","0.475","0.5","0.55","0.575","0.6","0.625","0.65","0.675","0.7","0.725","0.775","0.8","0.825","0.85","0.9","1.0"]},"legend":null},"angle":{"field":"t","type":"quantitative","scale":null}},
 "layer":[
 {"mark":{"type":"point","filled":false,"strokeWidth":2,"opacity":0.3,"clip":true},"encoding":{"size":{"field":"a","type":"quantitative","scale":{"type":"pow","exponent":2,"domain":[0,30],"range":[0,32400]},"legend":null}}},
 {"mark":{"type":"point","filled":false,"strokeWidth":2,"opacity":0.6,"clip":true},"encoding":{"size":{"field":"a","type":"quantitative","scale":{"type":"pow","exponent":2,"domain":[0,30],"range":[0,14400]},"legend":null}}},
 {"mark":{"type":"point","filled":false,"strokeWidth":2,"opacity":0.95,"clip":true},"encoding":{"size":{"field":"a","type":"quantitative","scale":{"type":"pow","exponent":2,"domain":[0,30],"range":[0,3600]},"legend":null}}},
 {"mark":{"type":"point","filled":false,"strokeWidth":3.3,"opacity":1,"size":200},"encoding":{"shape":{"value":"M-1,0L1,0M0,-1L0,1"},"angle":{"value":0}}}
 ],"resolve":{"scale":{"size":"independent"}}},
{"width":161,"height":155,"data":{"name":"ell"},"transform":[{"filter":{"field":"p","equal":"F|S"}},{"lookup":"g","from":{"data":{"name":"grp"},"key":"g","fields":["S","F"]}}],
 "encoding":{"x":{"field":"S","type":"quantitative","scale":{"domain":[0,419],"nice":false,"zero":false},"axis":{"values":[0,250],"labels":false,"title":null}},"y":{"field":"F","type":"quantitative","scale":{"domain":[-3.94,4.2],"nice":false,"zero":false},"axis":{"values":[-2.5,0,2.5],"labels":false,"title":null}},"color":{"field":"g","type":"nominal","scale":{"domain":["MACS1341","MACS2129","MACS0454","MACS1423"],"range":["#4996f0","#3f8b30","#f7963c","#d02c45"]},"legend":null},"shape":{"field":"k","type":"nominal","scale":{"domain":["0.075","0.125","0.15","0.175","0.2","0.225","0.25","0.275","0.3","0.325","0.35","0.375","0.4","0.425","0.45","0.475","0.5","0.55","0.575","0.6","0.625","0.65","0.675","0.7","0.725","0.775","0.8","0.825","0.85","0.9","1.0"]},"legend":null},"angle":{"field":"t","type":"quantitative","scale":null}},
 "layer":[
 {"mark":{"type":"point","filled":false,"strokeWidth":2,"opacity":0.3,"clip":true},"encoding":{"size":{"field":"a","type":"quantitative","scale":{"type":"pow","exponent":2,"domain":[0,30],"range":[0,32400]},"legend":null}}},
 {"mark":{"type":"point","filled":false,"strokeWidth":2,"opacity":0.6,"clip":true},"encoding":{"size":{"field":"a","type":"quantitative","scale":{"type":"pow","exponent":2,"domain":[0,30],"range":[0,14400]},"legend":null}}},
 {"mark":{"type":"point","filled":false,"strokeWidth":2,"opacity":0.95,"clip":true},"encoding":{"size":{"field":"a","type":"quantitative","scale":{"type":"pow","exponent":2,"domain":[0,30],"range":[0,3600]},"legend":null}}},
 {"mark":{"type":"point","filled":false,"strokeWidth":3.3,"opacity":1,"size":200},"encoding":{"shape":{"value":"M-1,0L1,0M0,-1L0,1"},"angle":{"value":0}}}
 ],"resolve":{"scale":{"size":"independent"}}},
{"width":161,"height":155,"view":{"stroke":null},"data":{"values":[]},"mark":"point"},
{"width":161,"height":155,"view":{"stroke":null},"data":{"values":[]},"mark":"point"},

{"width":161,"height":155,"data":{"name":"eb"},"transform":[{"filter":{"field":"v","equal":"T"}},{"lookup":"g","from":{"data":{"name":"grp"},"key":"g","fields":["z","T"]}}],
 "encoding":{"x":{"field":"z","type":"quantitative","scale":{"domain":[1.19,3.53],"nice":false,"zero":false},"axis":{"values":[2,3],"labels":false,"title":null}},"color":{"field":"g","type":"nominal","scale":{"domain":["MACS1341","MACS2129","MACS0454","MACS1423"],"range":["#4996f0","#3f8b30","#f7963c","#d02c45"]},"legend":null}},
 "layer":[
 {"transform":[{"filter":{"field":"lv","equal":3}}],"mark":{"type":"rule","strokeWidth":3,"opacity":0.3,"clip":true},"encoding":{"y":{"field":"lo","type":"quantitative","scale":{"domain":[0,1.415],"nice":false,"zero":false},"axis":{"values":[0,0.5,1],"format":".1f","title":"t₅₀ [Gyr]"}},"y2":{"field":"hi"}}},
 {"transform":[{"filter":{"field":"lv","equal":2}}],"mark":{"type":"rule","strokeWidth":3,"opacity":0.5,"clip":true},"encoding":{"y":{"field":"lo","type":"quantitative","scale":{"domain":[0,1.415],"nice":false,"zero":false},"axis":{"values":[0,0.5,1],"format":".1f","title":"t₅₀ [Gyr]"}},"y2":{"field":"hi"}}},
 {"transform":[{"filter":{"field":"lv","equal":1}}],"mark":{"type":"rule","strokeWidth":3,"opacity":0.85,"clip":true},"encoding":{"y":{"field":"lo","type":"quantitative","scale":{"domain":[0,1.415],"nice":false,"zero":false},"axis":{"values":[0,0.5,1],"format":".1f","title":"t₅₀ [Gyr]"}},"y2":{"field":"hi"}}},
 {"transform":[{"filter":{"field":"lv","equal":1}}],"mark":{"type":"point","shape":"M-1,0L1,0M0,-1L0,1","size":200,"strokeWidth":3.3,"filled":false,"opacity":1},"encoding":{"y":{"field":"T","type":"quantitative","scale":{"domain":[0,1.415],"nice":false,"zero":false},"axis":{"values":[0,0.5,1],"format":".1f","title":"t₅₀ [Gyr]"}}}}
 ]},
{"width":161,"height":155,"data":{"name":"ell"},"transform":[{"filter":{"field":"p","equal":"T|M"}},{"lookup":"g","from":{"data":{"name":"grp"},"key":"g","fields":["M","T"]}}],
 "encoding":{"x":{"field":"M","type":"quantitative","scale":{"domain":[10.19,12.51],"nice":false,"zero":false},"axis":{"values":[11,12],"labels":false,"title":null}},"y":{"field":"T","type":"quantitative","scale":{"domain":[0,1.415],"nice":false,"zero":false},"axis":{"values":[0,0.5,1],"labels":false,"title":null}},"color":{"field":"g","type":"nominal","scale":{"domain":["MACS1341","MACS2129","MACS0454","MACS1423"],"range":["#4996f0","#3f8b30","#f7963c","#d02c45"]},"legend":null},"shape":{"field":"k","type":"nominal","scale":{"domain":["0.075","0.125","0.15","0.175","0.2","0.225","0.25","0.275","0.3","0.325","0.35","0.375","0.4","0.425","0.45","0.475","0.5","0.55","0.575","0.6","0.625","0.65","0.675","0.7","0.725","0.775","0.8","0.825","0.85","0.9","1.0"]},"legend":null},"angle":{"field":"t","type":"quantitative","scale":null}},
 "layer":[
 {"mark":{"type":"point","filled":false,"strokeWidth":2,"opacity":0.3,"clip":true},"encoding":{"size":{"field":"a","type":"quantitative","scale":{"type":"pow","exponent":2,"domain":[0,30],"range":[0,32400]},"legend":null}}},
 {"mark":{"type":"point","filled":false,"strokeWidth":2,"opacity":0.6,"clip":true},"encoding":{"size":{"field":"a","type":"quantitative","scale":{"type":"pow","exponent":2,"domain":[0,30],"range":[0,14400]},"legend":null}}},
 {"mark":{"type":"point","filled":false,"strokeWidth":2,"opacity":0.95,"clip":true},"encoding":{"size":{"field":"a","type":"quantitative","scale":{"type":"pow","exponent":2,"domain":[0,30],"range":[0,3600]},"legend":null}}},
 {"mark":{"type":"point","filled":false,"strokeWidth":3.3,"opacity":1,"size":200},"encoding":{"shape":{"value":"M-1,0L1,0M0,-1L0,1"},"angle":{"value":0}}}
 ],"resolve":{"scale":{"size":"independent"}}},
{"width":161,"height":155,"data":{"name":"ell"},"transform":[{"filter":{"field":"p","equal":"T|Z"}},{"lookup":"g","from":{"data":{"name":"grp"},"key":"g","fields":["Z","T"]}}],
 "encoding":{"x":{"field":"Z","type":"quantitative","scale":{"domain":[-0.592,0.3],"nice":false,"zero":false},"axis":{"values":[-0.5,0],"labels":false,"title":null}},"y":{"field":"T","type":"quantitative","scale":{"domain":[0,1.415],"nice":false,"zero":false},"axis":{"values":[0,0.5,1],"labels":false,"title":null}},"color":{"field":"g","type":"nominal","scale":{"domain":["MACS1341","MACS2129","MACS0454","MACS1423"],"range":["#4996f0","#3f8b30","#f7963c","#d02c45"]},"legend":null},"shape":{"field":"k","type":"nominal","scale":{"domain":["0.075","0.125","0.15","0.175","0.2","0.225","0.25","0.275","0.3","0.325","0.35","0.375","0.4","0.425","0.45","0.475","0.5","0.55","0.575","0.6","0.625","0.65","0.675","0.7","0.725","0.775","0.8","0.825","0.85","0.9","1.0"]},"legend":null},"angle":{"field":"t","type":"quantitative","scale":null}},
 "layer":[
 {"mark":{"type":"point","filled":false,"strokeWidth":2,"opacity":0.3,"clip":true},"encoding":{"size":{"field":"a","type":"quantitative","scale":{"type":"pow","exponent":2,"domain":[0,30],"range":[0,32400]},"legend":null}}},
 {"mark":{"type":"point","filled":false,"strokeWidth":2,"opacity":0.6,"clip":true},"encoding":{"size":{"field":"a","type":"quantitative","scale":{"type":"pow","exponent":2,"domain":[0,30],"range":[0,14400]},"legend":null}}},
 {"mark":{"type":"point","filled":false,"strokeWidth":2,"opacity":0.95,"clip":true},"encoding":{"size":{"field":"a","type":"quantitative","scale":{"type":"pow","exponent":2,"domain":[0,30],"range":[0,3600]},"legend":null}}},
 {"mark":{"type":"point","filled":false,"strokeWidth":3.3,"opacity":1,"size":200},"encoding":{"shape":{"value":"M-1,0L1,0M0,-1L0,1"},"angle":{"value":0}}}
 ],"resolve":{"scale":{"size":"independent"}}},
{"width":161,"height":155,"data":{"name":"ell"},"transform":[{"filter":{"field":"p","equal":"T|A"}},{"lookup":"g","from":{"data":{"name":"grp"},"key":"g","fields":["A","T"]}}],
 "encoding":{"x":{"field":"A","type":"quantitative","scale":{"domain":[0,1.39],"nice":false,"zero":false},"axis":{"values":[0,1],"labels":false,"title":null}},"y":{"field":"T","type":"quantitative","scale":{"domain":[0,1.415],"nice":false,"zero":false},"axis":{"values":[0,0.5,1],"labels":false,"title":null}},"color":{"field":"g","type":"nominal","scale":{"domain":["MACS1341","MACS2129","MACS0454","MACS1423"],"range":["#4996f0","#3f8b30","#f7963c","#d02c45"]},"legend":null},"shape":{"field":"k","type":"nominal","scale":{"domain":["0.075","0.125","0.15","0.175","0.2","0.225","0.25","0.275","0.3","0.325","0.35","0.375","0.4","0.425","0.45","0.475","0.5","0.55","0.575","0.6","0.625","0.65","0.675","0.7","0.725","0.775","0.8","0.825","0.85","0.9","1.0"]},"legend":null},"angle":{"field":"t","type":"quantitative","scale":null}},
 "layer":[
 {"mark":{"type":"point","filled":false,"strokeWidth":2,"opacity":0.3,"clip":true},"encoding":{"size":{"field":"a","type":"quantitative","scale":{"type":"pow","exponent":2,"domain":[0,30],"range":[0,32400]},"legend":null}}},
 {"mark":{"type":"point","filled":false,"strokeWidth":2,"opacity":0.6,"clip":true},"encoding":{"size":{"field":"a","type":"quantitative","scale":{"type":"pow","exponent":2,"domain":[0,30],"range":[0,14400]},"legend":null}}},
 {"mark":{"type":"point","filled":false,"strokeWidth":2,"opacity":0.95,"clip":true},"encoding":{"size":{"field":"a","type":"quantitative","scale":{"type":"pow","exponent":2,"domain":[0,30],"range":[0,3600]},"legend":null}}},
 {"mark":{"type":"point","filled":false,"strokeWidth":3.3,"opacity":1,"size":200},"encoding":{"shape":{"value":"M-1,0L1,0M0,-1L0,1"},"angle":{"value":0}}}
 ],"resolve":{"scale":{"size":"independent"}}},
{"width":161,"height":155,"data":{"name":"ell"},"transform":[{"filter":{"field":"p","equal":"T|S"}},{"lookup":"g","from":{"data":{"name":"grp"},"key":"g","fields":["S","T"]}}],
 "encoding":{"x":{"field":"S","type":"quantitative","scale":{"domain":[0,419],"nice":false,"zero":false},"axis":{"values":[0,250],"labels":false,"title":null}},"y":{"field":"T","type":"quantitative","scale":{"domain":[0,1.415],"nice":false,"zero":false},"axis":{"values":[0,0.5,1],"labels":false,"title":null}},"color":{"field":"g","type":"nominal","scale":{"domain":["MACS1341","MACS2129","MACS0454","MACS1423"],"range":["#4996f0","#3f8b30","#f7963c","#d02c45"]},"legend":null},"shape":{"field":"k","type":"nominal","scale":{"domain":["0.075","0.125","0.15","0.175","0.2","0.225","0.25","0.275","0.3","0.325","0.35","0.375","0.4","0.425","0.45","0.475","0.5","0.55","0.575","0.6","0.625","0.65","0.675","0.7","0.725","0.775","0.8","0.825","0.85","0.9","1.0"]},"legend":null},"angle":{"field":"t","type":"quantitative","scale":null}},
 "layer":[
 {"mark":{"type":"point","filled":false,"strokeWidth":2,"opacity":0.3,"clip":true},"encoding":{"size":{"field":"a","type":"quantitative","scale":{"type":"pow","exponent":2,"domain":[0,30],"range":[0,32400]},"legend":null}}},
 {"mark":{"type":"point","filled":false,"strokeWidth":2,"opacity":0.6,"clip":true},"encoding":{"size":{"field":"a","type":"quantitative","scale":{"type":"pow","exponent":2,"domain":[0,30],"range":[0,14400]},"legend":null}}},
 {"mark":{"type":"point","filled":false,"strokeWidth":2,"opacity":0.95,"clip":true},"encoding":{"size":{"field":"a","type":"quantitative","scale":{"type":"pow","exponent":2,"domain":[0,30],"range":[0,3600]},"legend":null}}},
 {"mark":{"type":"point","filled":false,"strokeWidth":3.3,"opacity":1,"size":200},"encoding":{"shape":{"value":"M-1,0L1,0M0,-1L0,1"},"angle":{"value":0}}}
 ],"resolve":{"scale":{"size":"independent"}}},
{"width":161,"height":155,"data":{"name":"ell"},"transform":[{"filter":{"field":"p","equal":"T|F"}},{"lookup":"g","from":{"data":{"name":"grp"},"key":"g","fields":["F","T"]}}],
 "encoding":{"x":{"field":"F","type":"quantitative","scale":{"domain":[-3.94,4.2],"nice":false,"zero":false},"axis":{"values":[-2.5,0,2.5],"labels":false,"title":null}},"y":{"field":"T","type":"quantitative","scale":{"domain":[0,1.415],"nice":false,"zero":false},"axis":{"values":[0,0.5,1],"labels":false,"title":null}},"color":{"field":"g","type":"nominal","scale":{"domain":["MACS1341","MACS2129","MACS0454","MACS1423"],"range":["#4996f0","#3f8b30","#f7963c","#d02c45"]},"legend":null},"shape":{"field":"k","type":"nominal","scale":{"domain":["0.075","0.125","0.15","0.175","0.2","0.225","0.25","0.275","0.3","0.325","0.35","0.375","0.4","0.425","0.45","0.475","0.5","0.55","0.575","0.6","0.625","0.65","0.675","0.7","0.725","0.775","0.8","0.825","0.85","0.9","1.0"]},"legend":null},"angle":{"field":"t","type":"quantitative","scale":null}},
 "layer":[
 {"mark":{"type":"point","filled":false,"strokeWidth":2,"opacity":0.3,"clip":true},"encoding":{"size":{"field":"a","type":"quantitative","scale":{"type":"pow","exponent":2,"domain":[0,30],"range":[0,32400]},"legend":null}}},
 {"mark":{"type":"point","filled":false,"strokeWidth":2,"opacity":0.6,"clip":true},"encoding":{"size":{"field":"a","type":"quantitative","scale":{"type":"pow","exponent":2,"domain":[0,30],"range":[0,14400]},"legend":null}}},
 {"mark":{"type":"point","filled":false,"strokeWidth":2,"opacity":0.95,"clip":true},"encoding":{"size":{"field":"a","type":"quantitative","scale":{"type":"pow","exponent":2,"domain":[0,30],"range":[0,3600]},"legend":null}}},
 {"mark":{"type":"point","filled":false,"strokeWidth":3.3,"opacity":1,"size":200},"encoding":{"shape":{"value":"M-1,0L1,0M0,-1L0,1"},"angle":{"value":0}}}
 ],"resolve":{"scale":{"size":"independent"}}},
{"width":161,"height":155,"view":{"stroke":null},"data":{"values":[]},"mark":"point"},

{"width":161,"height":155,"data":{"name":"eb"},"transform":[{"filter":{"field":"v","equal":"D"}},{"lookup":"g","from":{"data":{"name":"grp"},"key":"g","fields":["z","D"]}}],
 "encoding":{"x":{"field":"z","type":"quantitative","scale":{"domain":[1.19,3.53],"nice":false,"zero":false},"axis":{"values":[2,3],"format":"d","labelAngle":-90,"title":"z","titleFontStyle":"italic"}},"color":{"field":"g","type":"nominal","scale":{"domain":["MACS1341","MACS2129","MACS0454","MACS1423"],"range":["#4996f0","#3f8b30","#f7963c","#d02c45"]},"legend":null}},
 "layer":[
 {"transform":[{"filter":{"field":"lv","equal":3}}],"mark":{"type":"rule","strokeWidth":3,"opacity":0.3,"clip":true},"encoding":{"y":{"field":"lo","type":"quantitative","scale":{"domain":[0,0.836],"nice":false,"zero":false},"axis":{"values":[0,0.25,0.5,0.75],"format":".2f","title":"t₉₀ − t₁₀ [Gyr]"}},"y2":{"field":"hi"}}},
 {"transform":[{"filter":{"field":"lv","equal":2}}],"mark":{"type":"rule","strokeWidth":3,"opacity":0.5,"clip":true},"encoding":{"y":{"field":"lo","type":"quantitative","scale":{"domain":[0,0.836],"nice":false,"zero":false},"axis":{"values":[0,0.25,0.5,0.75],"format":".2f","title":"t₉₀ − t₁₀ [Gyr]"}},"y2":{"field":"hi"}}},
 {"transform":[{"filter":{"field":"lv","equal":1}}],"mark":{"type":"rule","strokeWidth":3,"opacity":0.85,"clip":true},"encoding":{"y":{"field":"lo","type":"quantitative","scale":{"domain":[0,0.836],"nice":false,"zero":false},"axis":{"values":[0,0.25,0.5,0.75],"format":".2f","title":"t₉₀ − t₁₀ [Gyr]"}},"y2":{"field":"hi"}}},
 {"transform":[{"filter":{"field":"lv","equal":1}}],"mark":{"type":"point","shape":"M-1,0L1,0M0,-1L0,1","size":200,"strokeWidth":3.3,"filled":false,"opacity":1},"encoding":{"y":{"field":"D","type":"quantitative","scale":{"domain":[0,0.836],"nice":false,"zero":false},"axis":{"values":[0,0.25,0.5,0.75],"format":".2f","title":"t₉₀ − t₁₀ [Gyr]"}}}}
 ]},
{"width":161,"height":155,"data":{"name":"ell"},"transform":[{"filter":{"field":"p","equal":"D|M"}},{"lookup":"g","from":{"data":{"name":"grp"},"key":"g","fields":["M","D"]}}],
 "encoding":{"x":{"field":"M","type":"quantitative","scale":{"domain":[10.19,12.51],"nice":false,"zero":false},"axis":{"values":[11,12],"format":"d","labelAngle":-90,"title":"log μM/M⊙"}},"y":{"field":"D","type":"quantitative","scale":{"domain":[0,0.836],"nice":false,"zero":false},"axis":{"values":[0,0.25,0.5,0.75],"labels":false,"title":null}},"color":{"field":"g","type":"nominal","scale":{"domain":["MACS1341","MACS2129","MACS0454","MACS1423"],"range":["#4996f0","#3f8b30","#f7963c","#d02c45"]},"legend":null},"shape":{"field":"k","type":"nominal","scale":{"domain":["0.075","0.125","0.15","0.175","0.2","0.225","0.25","0.275","0.3","0.325","0.35","0.375","0.4","0.425","0.45","0.475","0.5","0.55","0.575","0.6","0.625","0.65","0.675","0.7","0.725","0.775","0.8","0.825","0.85","0.9","1.0"]},"legend":null},"angle":{"field":"t","type":"quantitative","scale":null}},
 "layer":[
 {"mark":{"type":"point","filled":false,"strokeWidth":2,"opacity":0.3,"clip":true},"encoding":{"size":{"field":"a","type":"quantitative","scale":{"type":"pow","exponent":2,"domain":[0,30],"range":[0,32400]},"legend":null}}},
 {"mark":{"type":"point","filled":false,"strokeWidth":2,"opacity":0.6,"clip":true},"encoding":{"size":{"field":"a","type":"quantitative","scale":{"type":"pow","exponent":2,"domain":[0,30],"range":[0,14400]},"legend":null}}},
 {"mark":{"type":"point","filled":false,"strokeWidth":2,"opacity":0.95,"clip":true},"encoding":{"size":{"field":"a","type":"quantitative","scale":{"type":"pow","exponent":2,"domain":[0,30],"range":[0,3600]},"legend":null}}},
 {"mark":{"type":"point","filled":false,"strokeWidth":3.3,"opacity":1,"size":200},"encoding":{"shape":{"value":"M-1,0L1,0M0,-1L0,1"},"angle":{"value":0}}}
 ],"resolve":{"scale":{"size":"independent"}}},
{"width":161,"height":155,"data":{"name":"ell"},"transform":[{"filter":{"field":"p","equal":"D|Z"}},{"lookup":"g","from":{"data":{"name":"grp"},"key":"g","fields":["Z","D"]}}],
 "encoding":{"x":{"field":"Z","type":"quantitative","scale":{"domain":[-0.592,0.3],"nice":false,"zero":false},"axis":{"values":[-0.5,0],"format":".1f","labelAngle":-90,"title":"log Z / Z⊙"}},"y":{"field":"D","type":"quantitative","scale":{"domain":[0,0.836],"nice":false,"zero":false},"axis":{"values":[0,0.25,0.5,0.75],"labels":false,"title":null}},"color":{"field":"g","type":"nominal","scale":{"domain":["MACS1341","MACS2129","MACS0454","MACS1423"],"range":["#4996f0","#3f8b30","#f7963c","#d02c45"]},"legend":null},"shape":{"field":"k","type":"nominal","scale":{"domain":["0.075","0.125","0.15","0.175","0.2","0.225","0.25","0.275","0.3","0.325","0.35","0.375","0.4","0.425","0.45","0.475","0.5","0.55","0.575","0.6","0.625","0.65","0.675","0.7","0.725","0.775","0.8","0.825","0.85","0.9","1.0"]},"legend":null},"angle":{"field":"t","type":"quantitative","scale":null}},
 "layer":[
 {"mark":{"type":"point","filled":false,"strokeWidth":2,"opacity":0.3,"clip":true},"encoding":{"size":{"field":"a","type":"quantitative","scale":{"type":"pow","exponent":2,"domain":[0,30],"range":[0,32400]},"legend":null}}},
 {"mark":{"type":"point","filled":false,"strokeWidth":2,"opacity":0.6,"clip":true},"encoding":{"size":{"field":"a","type":"quantitative","scale":{"type":"pow","exponent":2,"domain":[0,30],"range":[0,14400]},"legend":null}}},
 {"mark":{"type":"point","filled":false,"strokeWidth":2,"opacity":0.95,"clip":true},"encoding":{"size":{"field":"a","type":"quantitative","scale":{"type":"pow","exponent":2,"domain":[0,30],"range":[0,3600]},"legend":null}}},
 {"mark":{"type":"point","filled":false,"strokeWidth":3.3,"opacity":1,"size":200},"encoding":{"shape":{"value":"M-1,0L1,0M0,-1L0,1"},"angle":{"value":0}}}
 ],"resolve":{"scale":{"size":"independent"}}},
{"width":161,"height":155,"data":{"name":"ell"},"transform":[{"filter":{"field":"p","equal":"D|A"}},{"lookup":"g","from":{"data":{"name":"grp"},"key":"g","fields":["A","D"]}}],
 "encoding":{"x":{"field":"A","type":"quantitative","scale":{"domain":[0,1.39],"nice":false,"zero":false},"axis":{"values":[0,1],"format":"d","labelAngle":-90,"title":"Aᵥ","titleFontStyle":"italic"}},"y":{"field":"D","type":"quantitative","scale":{"domain":[0,0.836],"nice":false,"zero":false},"axis":{"values":[0,0.25,0.5,0.75],"labels":false,"title":null}},"color":{"field":"g","type":"nominal","scale":{"domain":["MACS1341","MACS2129","MACS0454","MACS1423"],"range":["#4996f0","#3f8b30","#f7963c","#d02c45"]},"legend":null},"shape":{"field":"k","type":"nominal","scale":{"domain":["0.075","0.125","0.15","0.175","0.2","0.225","0.25","0.275","0.3","0.325","0.35","0.375","0.4","0.425","0.45","0.475","0.5","0.55","0.575","0.6","0.625","0.65","0.675","0.7","0.725","0.775","0.8","0.825","0.85","0.9","1.0"]},"legend":null},"angle":{"field":"t","type":"quantitative","scale":null}},
 "layer":[
 {"mark":{"type":"point","filled":false,"strokeWidth":2,"opacity":0.3,"clip":true},"encoding":{"size":{"field":"a","type":"quantitative","scale":{"type":"pow","exponent":2,"domain":[0,30],"range":[0,32400]},"legend":null}}},
 {"mark":{"type":"point","filled":false,"strokeWidth":2,"opacity":0.6,"clip":true},"encoding":{"size":{"field":"a","type":"quantitative","scale":{"type":"pow","exponent":2,"domain":[0,30],"range":[0,14400]},"legend":null}}},
 {"mark":{"type":"point","filled":false,"strokeWidth":2,"opacity":0.95,"clip":true},"encoding":{"size":{"field":"a","type":"quantitative","scale":{"type":"pow","exponent":2,"domain":[0,30],"range":[0,3600]},"legend":null}}},
 {"mark":{"type":"point","filled":false,"strokeWidth":3.3,"opacity":1,"size":200},"encoding":{"shape":{"value":"M-1,0L1,0M0,-1L0,1"},"angle":{"value":0}}}
 ],"resolve":{"scale":{"size":"independent"}}},
{"width":161,"height":155,"data":{"name":"ell"},"transform":[{"filter":{"field":"p","equal":"D|S"}},{"lookup":"g","from":{"data":{"name":"grp"},"key":"g","fields":["S","D"]}}],
 "encoding":{"x":{"field":"S","type":"quantitative","scale":{"domain":[0,419],"nice":false,"zero":false},"axis":{"values":[0,250],"format":"d","labelAngle":-90,"title":"σ [km/s]"}},"y":{"field":"D","type":"quantitative","scale":{"domain":[0,0.836],"nice":false,"zero":false},"axis":{"values":[0,0.25,0.5,0.75],"labels":false,"title":null}},"color":{"field":"g","type":"nominal","scale":{"domain":["MACS1341","MACS2129","MACS0454","MACS1423"],"range":["#4996f0","#3f8b30","#f7963c","#d02c45"]},"legend":null},"shape":{"field":"k","type":"nominal","scale":{"domain":["0.075","0.125","0.15","0.175","0.2","0.225","0.25","0.275","0.3","0.325","0.35","0.375","0.4","0.425","0.45","0.475","0.5","0.55","0.575","0.6","0.625","0.65","0.675","0.7","0.725","0.775","0.8","0.825","0.85","0.9","1.0"]},"legend":null},"angle":{"field":"t","type":"quantitative","scale":null}},
 "layer":[
 {"mark":{"type":"point","filled":false,"strokeWidth":2,"opacity":0.3,"clip":true},"encoding":{"size":{"field":"a","type":"quantitative","scale":{"type":"pow","exponent":2,"domain":[0,30],"range":[0,32400]},"legend":null}}},
 {"mark":{"type":"point","filled":false,"strokeWidth":2,"opacity":0.6,"clip":true},"encoding":{"size":{"field":"a","type":"quantitative","scale":{"type":"pow","exponent":2,"domain":[0,30],"range":[0,14400]},"legend":null}}},
 {"mark":{"type":"point","filled":false,"strokeWidth":2,"opacity":0.95,"clip":true},"encoding":{"size":{"field":"a","type":"quantitative","scale":{"type":"pow","exponent":2,"domain":[0,30],"range":[0,3600]},"legend":null}}},
 {"mark":{"type":"point","filled":false,"strokeWidth":3.3,"opacity":1,"size":200},"encoding":{"shape":{"value":"M-1,0L1,0M0,-1L0,1"},"angle":{"value":0}}}
 ],"resolve":{"scale":{"size":"independent"}}},
{"width":161,"height":155,"data":{"name":"ell"},"transform":[{"filter":{"field":"p","equal":"D|F"}},{"lookup":"g","from":{"data":{"name":"grp"},"key":"g","fields":["F","D"]}}],
 "encoding":{"x":{"field":"F","type":"quantitative","scale":{"domain":[-3.94,4.2],"nice":false,"zero":false},"axis":{"values":[-2.5,0,2.5],"format":".1f","labelAngle":-90,"title":"log SFR₁₀₀"}},"y":{"field":"D","type":"quantitative","scale":{"domain":[0,0.836],"nice":false,"zero":false},"axis":{"values":[0,0.25,0.5,0.75],"labels":false,"title":null}},"color":{"field":"g","type":"nominal","scale":{"domain":["MACS1341","MACS2129","MACS0454","MACS1423"],"range":["#4996f0","#3f8b30","#f7963c","#d02c45"]},"legend":null},"shape":{"field":"k","type":"nominal","scale":{"domain":["0.075","0.125","0.15","0.175","0.2","0.225","0.25","0.275","0.3","0.325","0.35","0.375","0.4","0.425","0.45","0.475","0.5","0.55","0.575","0.6","0.625","0.65","0.675","0.7","0.725","0.775","0.8","0.825","0.85","0.9","1.0"]},"legend":null},"angle":{"field":"t","type":"quantitative","scale":null}},
 "layer":[
 {"mark":{"type":"point","filled":false,"strokeWidth":2,"opacity":0.3,"clip":true},"encoding":{"size":{"field":"a","type":"quantitative","scale":{"type":"pow","exponent":2,"domain":[0,30],"range":[0,32400]},"legend":null}}},
 {"mark":{"type":"point","filled":false,"strokeWidth":2,"opacity":0.6,"clip":true},"encoding":{"size":{"field":"a","type":"quantitative","scale":{"type":"pow","exponent":2,"domain":[0,30],"range":[0,14400]},"legend":null}}},
 {"mark":{"type":"point","filled":false,"strokeWidth":2,"opacity":0.95,"clip":true},"encoding":{"size":{"field":"a","type":"quantitative","scale":{"type":"pow","exponent":2,"domain":[0,30],"range":[0,3600]},"legend":null}}},
 {"mark":{"type":"point","filled":false,"strokeWidth":3.3,"opacity":1,"size":200},"encoding":{"shape":{"value":"M-1,0L1,0M0,-1L0,1"},"angle":{"value":0}}}
 ],"resolve":{"scale":{"size":"independent"}}},
{"width":161,"height":155,"data":{"name":"ell"},"transform":[{"filter":{"field":"p","equal":"D|T"}},{"lookup":"g","from":{"data":{"name":"grp"},"key":"g","fields":["T","D"]}}],
 "encoding":{"x":{"field":"T","type":"quantitative","scale":{"domain":[0,1.415],"nice":false,"zero":false},"axis":{"values":[0,1],"format":"d","labelAngle":-90,"title":"t₅₀ [Gyr]"}},"y":{"field":"D","type":"quantitative","scale":{"domain":[0,0.836],"nice":false,"zero":false},"axis":{"values":[0,0.25,0.5,0.75],"labels":false,"title":null}},"color":{"field":"g","type":"nominal","scale":{"domain":["MACS1341","MACS2129","MACS0454","MACS1423"],"range":["#4996f0","#3f8b30","#f7963c","#d02c45"]},"legend":null},"shape":{"field":"k","type":"nominal","scale":{"domain":["0.075","0.125","0.15","0.175","0.2","0.225","0.25","0.275","0.3","0.325","0.35","0.375","0.4","0.425","0.45","0.475","0.5","0.55","0.575","0.6","0.625","0.65","0.675","0.7","0.725","0.775","0.8","0.825","0.85","0.9","1.0"]},"legend":null},"angle":{"field":"t","type":"quantitative","scale":null}},
 "layer":[
 {"mark":{"type":"point","filled":false,"strokeWidth":2,"opacity":0.3,"clip":true},"encoding":{"size":{"field":"a","type":"quantitative","scale":{"type":"pow","exponent":2,"domain":[0,30],"range":[0,32400]},"legend":null}}},
 {"mark":{"type":"point","filled":false,"strokeWidth":2,"opacity":0.6,"clip":true},"encoding":{"size":{"field":"a","type":"quantitative","scale":{"type":"pow","exponent":2,"domain":[0,30],"range":[0,14400]},"legend":null}}},
 {"mark":{"type":"point","filled":false,"strokeWidth":2,"opacity":0.95,"clip":true},"encoding":{"size":{"field":"a","type":"quantitative","scale":{"type":"pow","exponent":2,"domain":[0,30],"range":[0,3600]},"legend":null}}},
 {"mark":{"type":"point","filled":false,"strokeWidth":3.3,"opacity":1,"size":200},"encoding":{"shape":{"value":"M-1,0L1,0M0,-1L0,1"},"angle":{"value":0}}}
 ],"resolve":{"scale":{"size":"independent"}}}
],
"config":{
"font":"DejaVu Sans",
"view":{"stroke":"#000","strokeWidth":2},
"axis":{"domain":false,"grid":false,"tickSize":-11,"tickWidth":2.5,"tickColor":"#000","labelFont":"DejaVu Sans","labelFontSize":17.5,"labelColor":"#000","labelPadding":20,"labelFlush":false,"labelOverlap":false,"titleFont":"DejaVu Sans","titleFontSize":21,"titleFontWeight":"normal","titleColor":"#000","titlePadding":8},
"range":{"symbol":[
"M1,0C1,0.0414,0.552,0.075,0,0.075C-0.552,0.075,-1,0.0414,-1,0C-1,-0.0414,-0.552,-0.075,0,-0.075C0.552,-0.075,1,-0.0414,1,0Z",
"M1,0C1,0.069,0.552,0.125,0,0.125C-0.552,0.125,-1,0.069,-1,0C-1,-0.069,-0.552,-0.125,0,-0.125C0.552,-0.125,1,-0.069,1,0Z",
"M1,0C1,0.0828,0.552,0.15,0,0.15C-0.552,0.15,-1,0.0828,-1,0C-1,-0.0828,-0.552,-0.15,0,-0.15C0.552,-0.15,1,-0.0828,1,0Z",
"M1,0C1,0.0966,0.552,0.175,0,0.175C-0.552,0.175,-1,0.0966,-1,0C-1,-0.0966,-0.552,-0.175,0,-0.175C0.552,-0.175,1,-0.0966,1,0Z",
"M1,0C1,0.1104,0.552,0.2,0,0.2C-0.552,0.2,-1,0.1104,-1,0C-1,-0.1104,-0.552,-0.2,0,-0.2C0.552,-0.2,1,-0.1104,1,0Z",
"M1,0C1,0.1242,0.552,0.225,0,0.225C-0.552,0.225,-1,0.1242,-1,0C-1,-0.1242,-0.552,-0.225,0,-0.225C0.552,-0.225,1,-0.1242,1,0Z",
"M1,0C1,0.138,0.552,0.25,0,0.25C-0.552,0.25,-1,0.138,-1,0C-1,-0.138,-0.552,-0.25,0,-0.25C0.552,-0.25,1,-0.138,1,0Z",
"M1,0C1,0.1518,0.552,0.275,0,0.275C-0.552,0.275,-1,0.1518,-1,0C-1,-0.1518,-0.552,-0.275,0,-0.275C0.552,-0.275,1,-0.1518,1,0Z",
"M1,0C1,0.1656,0.552,0.3,0,0.3C-0.552,0.3,-1,0.1656,-1,0C-1,-0.1656,-0.552,-0.3,0,-0.3C0.552,-0.3,1,-0.1656,1,0Z",
"M1,0C1,0.1794,0.552,0.325,0,0.325C-0.552,0.325,-1,0.1794,-1,0C-1,-0.1794,-0.552,-0.325,0,-0.325C0.552,-0.325,1,-0.1794,1,0Z",
"M1,0C1,0.1932,0.552,0.35,0,0.35C-0.552,0.35,-1,0.1932,-1,0C-1,-0.1932,-0.552,-0.35,0,-0.35C0.552,-0.35,1,-0.1932,1,0Z",
"M1,0C1,0.207,0.552,0.375,0,0.375C-0.552,0.375,-1,0.207,-1,0C-1,-0.207,-0.552,-0.375,0,-0.375C0.552,-0.375,1,-0.207,1,0Z",
"M1,0C1,0.2208,0.552,0.4,0,0.4C-0.552,0.4,-1,0.2208,-1,0C-1,-0.2208,-0.552,-0.4,0,-0.4C0.552,-0.4,1,-0.2208,1,0Z",
"M1,0C1,0.2346,0.552,0.425,0,0.425C-0.552,0.425,-1,0.2346,-1,0C-1,-0.2346,-0.552,-0.425,0,-0.425C0.552,-0.425,1,-0.2346,1,0Z",
"M1,0C1,0.2484,0.552,0.45,0,0.45C-0.552,0.45,-1,0.2484,-1,0C-1,-0.2484,-0.552,-0.45,0,-0.45C0.552,-0.45,1,-0.2484,1,0Z",
"M1,0C1,0.2622,0.552,0.475,0,0.475C-0.552,0.475,-1,0.2622,-1,0C-1,-0.2622,-0.552,-0.475,0,-0.475C0.552,-0.475,1,-0.2622,1,0Z",
"M1,0C1,0.276,0.552,0.5,0,0.5C-0.552,0.5,-1,0.276,-1,0C-1,-0.276,-0.552,-0.5,0,-0.5C0.552,-0.5,1,-0.276,1,0Z",
"M1,0C1,0.3036,0.552,0.55,0,0.55C-0.552,0.55,-1,0.3036,-1,0C-1,-0.3036,-0.552,-0.55,0,-0.55C0.552,-0.55,1,-0.3036,1,0Z",
"M1,0C1,0.3174,0.552,0.575,0,0.575C-0.552,0.575,-1,0.3174,-1,0C-1,-0.3174,-0.552,-0.575,0,-0.575C0.552,-0.575,1,-0.3174,1,0Z",
"M1,0C1,0.3312,0.552,0.6,0,0.6C-0.552,0.6,-1,0.3312,-1,0C-1,-0.3312,-0.552,-0.6,0,-0.6C0.552,-0.6,1,-0.3312,1,0Z",
"M1,0C1,0.345,0.552,0.625,0,0.625C-0.552,0.625,-1,0.345,-1,0C-1,-0.345,-0.552,-0.625,0,-0.625C0.552,-0.625,1,-0.345,1,0Z",
"M1,0C1,0.3588,0.552,0.65,0,0.65C-0.552,0.65,-1,0.3588,-1,0C-1,-0.3588,-0.552,-0.65,0,-0.65C0.552,-0.65,1,-0.3588,1,0Z",
"M1,0C1,0.3726,0.552,0.675,0,0.675C-0.552,0.675,-1,0.3726,-1,0C-1,-0.3726,-0.552,-0.675,0,-0.675C0.552,-0.675,1,-0.3726,1,0Z",
"M1,0C1,0.3864,0.552,0.7,0,0.7C-0.552,0.7,-1,0.3864,-1,0C-1,-0.3864,-0.552,-0.7,0,-0.7C0.552,-0.7,1,-0.3864,1,0Z",
"M1,0C1,0.4002,0.552,0.725,0,0.725C-0.552,0.725,-1,0.4002,-1,0C-1,-0.4002,-0.552,-0.725,0,-0.725C0.552,-0.725,1,-0.4002,1,0Z",
"M1,0C1,0.4278,0.552,0.775,0,0.775C-0.552,0.775,-1,0.4278,-1,0C-1,-0.4278,-0.552,-0.775,0,-0.775C0.552,-0.775,1,-0.4278,1,0Z",
"M1,0C1,0.4416,0.552,0.8,0,0.8C-0.552,0.8,-1,0.4416,-1,0C-1,-0.4416,-0.552,-0.8,0,-0.8C0.552,-0.8,1,-0.4416,1,0Z",
"M1,0C1,0.4554,0.552,0.825,0,0.825C-0.552,0.825,-1,0.4554,-1,0C-1,-0.4554,-0.552,-0.825,0,-0.825C0.552,-0.825,1,-0.4554,1,0Z",
"M1,0C1,0.4692,0.552,0.85,0,0.85C-0.552,0.85,-1,0.4692,-1,0C-1,-0.4692,-0.552,-0.85,0,-0.85C0.552,-0.85,1,-0.4692,1,0Z",
"M1,0C1,0.4968,0.552,0.9,0,0.9C-0.552,0.9,-1,0.4968,-1,0C-1,-0.4968,-0.552,-0.9,0,-0.9C0.552,-0.9,1,-0.4968,1,0Z",
"M1,0C1,0.552,0.552,1,0,1C-0.552,1,-1,0.552,-1,0C-1,-0.552,-0.552,-1,0,-1C0.552,-1,1,-0.552,1,0Z"
]}
}
}
